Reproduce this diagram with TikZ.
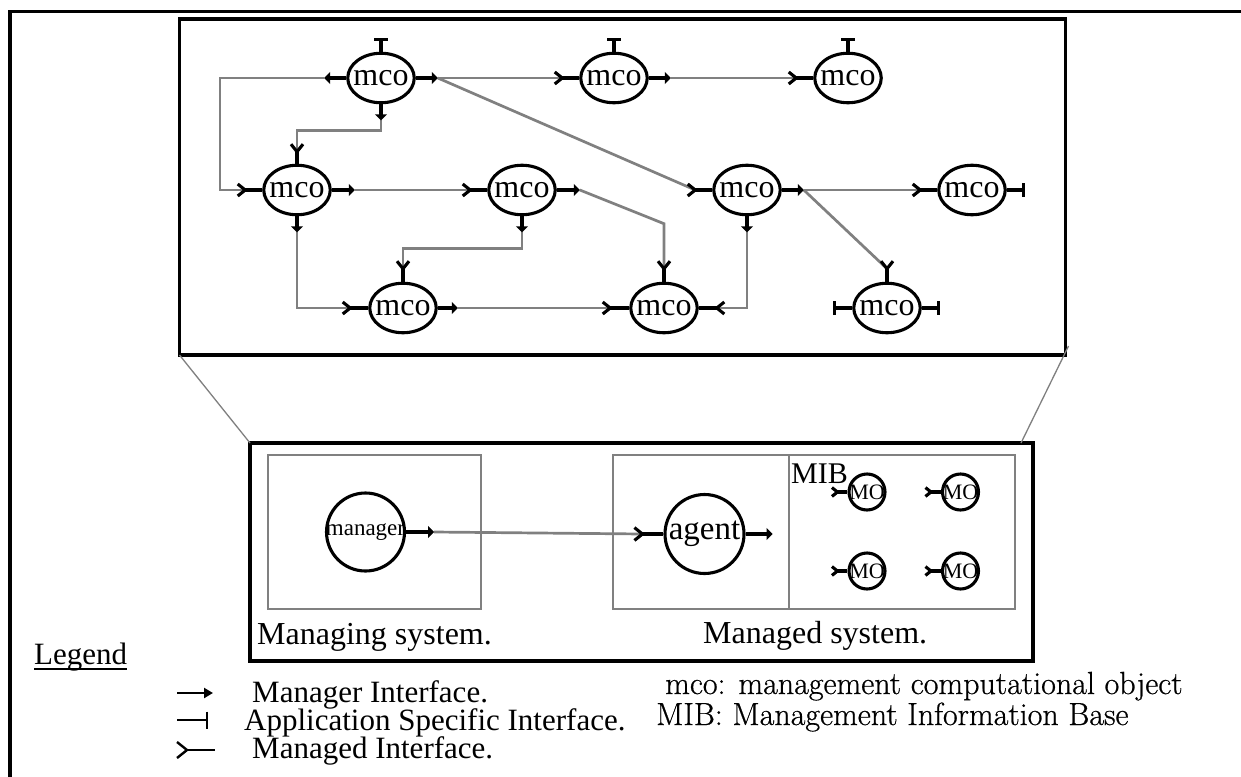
\documentclass[tikz,border=0pt]{standalone}
\usepackage{fontspec}
\setmainfont{Liberation Serif}
\newfontfamily\bookfont[FakeBold=0.6]{Latin Modern Roman}
\usetikzlibrary{shapes.geometric,arrows.meta,calc,backgrounds}

\tikzset{
  ink/.style={draw=black, line width=3.1pt},
  wire/.style={draw=black!50, line width=2.7pt},
  sysbox/.style={draw=black!50, line width=2.7pt, rectangle, inner sep=0pt, outer sep=0pt, anchor=north west},
  frame/.style={draw=black, line width=3.5pt, rectangle, inner sep=0pt, outer sep=0pt, anchor=north west},
  link/.style={draw=black!50, line width=1.3pt},
  mco/.style={ellipse, ink, minimum width=66.5pt, minimum height=49.5pt,
    inner xsep=-6pt, inner ysep=0pt, font=\fontsize{32}{32}\selectfont},
  unit/.style={circle, ink, inner sep=-5pt},
  mgr/.style={ink, -{Triangle[length=6pt,width=12pt]}},
  asi/.style={ink, -{Bar[width=14pt]}},
  lbl/.style={inner sep=0pt, anchor=base west, font=\fontsize{32}{32}\selectfont},
  keytext/.style={inner sep=0pt, anchor=base west, font=\fontsize{31}{31}\selectfont},
  deftext/.style={inner sep=0pt, anchor=base west, font=\bookfont\fontsize{32}{32}\selectfont},
  % managed-interface fork, its point towards the object
  pics/mgdW/.style={code={\draw[ink] (-#1,-0.8*#1) -- (0,0) -- (-#1,0.8*#1);}},
  pics/mgdE/.style={code={\draw[ink] (#1,-0.8*#1) -- (0,0) -- (#1,0.8*#1);}},
  pics/mgdN/.style={code={\draw[ink] (-0.8*#1,-#1) -- (0,0) -- (0.8*#1,-#1);}},
  pics/mgdW/.default=7.5,
  pics/mgdE/.default=7.5,
  pics/mgdN/.default=7.5,
}

\begin{document}
\begin{tikzpicture}[x=1pt,y=-1pt]
\useasboundingbox (0,0) rectangle (1241,776);
\begin{scope}[on background layer]
\fill[white] (0,0) rectangle (1241,776);
\end{scope}

% outer frame
\draw[line width=3.4pt] (10,790) -- (10,11.5) -- (1260,11.5);

% frames of the two views
\node[frame, minimum width=886pt, minimum height=336pt] (top) at (179.5,19) {};
\node[frame, minimum width=783pt, minimum height=218pt] (low) at (250,443) {};
\draw[link] (top.south west) -- (low.north west);
\draw[link] ([shift={(3,-9)}]top.south east) -- ([shift={(-12,0)}]low.north east);

% ---------- computational objects ----------
\node[mco] (c1) at (381,78) {mco};
\node[mco] (c2) at (614,78) {mco};
\node[mco] (c3) at (848,78) {mco};
\node[mco] (c4) at (297,190) {mco};
\node[mco] (c5) at (522,190) {mco};
\node[mco] (c6) at (747,190) {mco};
\node[mco] (c7) at (972,190) {mco};
\node[mco] (c8) at (403,308) {mco};
\node[mco] (c9) at (664,308) {mco};
\node[mco] (c10) at (887,308) {mco};

% interfaces
\draw[asi] (c1.north) -- ++(0,-14);
\draw[mgr] (c1.west) -- ++(-22,0) coordinate (c1w);
\draw[mgr] (c1.east) -- ++(22,0) coordinate (c1e);
\draw[mgr] (c1.south) -- ++(0,16) coordinate (c1s);

\draw[asi] (c2.north) -- ++(0,-14);
\draw[ink] (c2.west) -- ++(-17,0) coordinate (c2w); \pic at (c2w) {mgdW};
\draw[mgr] (c2.east) -- ++(22,0) coordinate (c2e);

\draw[asi] (c3.north) -- ++(0,-14);
\draw[ink] (c3.west) -- ++(-17,0) coordinate (c3w); \pic at (c3w) {mgdW};

\draw[ink] (c4.north) -- ++(0,-12) coordinate (c4n); \pic at (c4n) {mgdN};
\draw[ink] (c4.west) -- ++(-17,0) coordinate (c4w); \pic at (c4w) {mgdW};
\draw[mgr] (c4.east) -- ++(23,0) coordinate (c4e);
\draw[mgr] (c4.south) -- ++(0,16) coordinate (c4s);

\draw[ink] (c5.west) -- ++(-17,0) coordinate (c5w); \pic at (c5w) {mgdW};
\draw[mgr] (c5.east) -- ++(23,0) coordinate (c5e);
\draw[mgr] (c5.south) -- ++(0,16) coordinate (c5s);

\draw[ink] (c6.west) -- ++(-17,0) coordinate (c6w); \pic at (c6w) {mgdW};
\draw[mgr] (c6.east) -- ++(22,0) coordinate (c6e);
\draw[mgr] (c6.south) -- ++(0,16) coordinate (c6s);

\draw[ink] (c7.west) -- ++(-17,0) coordinate (c7w); \pic at (c7w) {mgdW};
\draw[asi] (c7.east) -- ++(18,0);

\draw[ink] (c8.north) -- ++(0,-13) coordinate (c8n); \pic at (c8n) {mgdN};
\draw[ink] (c8.west) -- ++(-18,0) coordinate (c8w); \pic at (c8w) {mgdW};
\draw[mgr] (c8.east) -- ++(20,0) coordinate (c8e);

\draw[ink] (c9.north) -- ++(0,-13) coordinate (c9n); \pic at (c9n) {mgdN};
\draw[ink] (c9.west) -- ++(-19,0) coordinate (c9w); \pic at (c9w) {mgdW};
\draw[ink] (c9.east) -- ++(18,0) coordinate (c9e); \pic at (c9e) {mgdE};

\draw[ink] (c10.north) -- ++(0,-13) coordinate (c10n); \pic at (c10n) {mgdN};
\draw[asi] (c10.west) -- ++(-19,0);
\draw[asi] (c10.east) -- ++(18,0);

% bindings between interfaces
\begin{scope}[on background layer]
\draw[wire] (c1w) -- (220,78) |- (c4w);
\draw[wire] (c1s) -- ++(0,10) -| (c4n);
\draw[wire] (c1e) -- (c2w);
\draw[wire] (c1e) -- (c6w);
\draw[wire] (c2e) -- (c3w);
\draw[wire] (c4e) -- (c5w);
\draw[wire] (c4s) |- (c8w);
\draw[wire] (c5e) -- ($(c9n)+(0,-45)$) -- (c9n);
\draw[wire] (c5s) -- ++(0,16) -| (c8n);
\draw[wire] (c6e) -- (c7w);
\draw[wire] (c6e) -- (c10n);
\draw[wire] (c6s) |- (c9e);
\draw[wire] (c8e) -- (c9w);
\end{scope}

% ---------- managing and managed systems ----------
\node[sysbox, minimum width=213pt, minimum height=154pt] (mgsys) at (268,455) {};
\node[sysbox, minimum width=176pt, minimum height=154pt] (agsys) at (613,455) {};
\node[sysbox, minimum width=226pt, minimum height=154pt] (mib) at (789,455) {};

\node[unit, minimum size=78pt, font=\fontsize{23}{23}\selectfont] (mgr) at (365.5,532) {manager};
\node[unit, minimum size=79pt, font=\fontsize{33}{33}\selectfont] (agt) at (704.5,534) {agent};
\draw[mgr] (mgr.east) -- ++(28,0) coordinate (mgre);
\draw[ink] (agt.west) -- ++(-21,0) coordinate (agtw); \pic at (agtw) {mgdW=8};
\draw[mgr] (agt.east) -- ++(27,0);
\begin{scope}[on background layer]
\draw[wire] (mgre) -- (agtw);
\end{scope}

\node[inner sep=0pt, anchor=base west, font=\fontsize{30}{30}\selectfont] (mibl) at (791,483) {MIB};

\foreach \n/\x/\y in {mo1/867/492, mo2/960.5/492, mo3/867/571, mo4/960.5/571}{
  \node[unit, minimum size=36pt, font=\fontsize{22}{22}\selectfont] (\n) at (\x,\y) {MO};
  \draw[ink] (\n.west) -- ++(-10,0) coordinate (\n w);
  \pic at (\n w) {mgdW=5.5};
}

\node[lbl] (mgl) at (257,644) {Managing system.};
\node[lbl] (agl) at (703,643) {Managed system.};

% ---------- legend ----------
\node[keytext] (leg) at (34,664) {Legend};
\draw[line width=1.8pt] ([yshift=-5pt]leg.base west) -- ([yshift=-5pt]leg.base east);

\coordinate (k1a) at (177,693);
\coordinate (k1b) at (213,693);
\draw[ink, line width=2.4pt, -{Triangle[length=9pt,width=10pt]}] (k1a) -- (k1b);
\node[keytext] (k1t) at (252,702) {Manager Interface.};

\coordinate (k2a) at (177,720);
\coordinate (k2b) at (208,720);
\draw[ink, line width=2.4pt, -{Bar[width=17pt]}] (k2a) -- (k2b);
\node[keytext] (k2t) at (244,730) {Application Specific Interface.};

\coordinate (k3a) at (187,750);
\coordinate (k3b) at (215,750);
\draw[ink, line width=2.4pt] (k3a) -- (k3b);
\draw[ink, line width=2.4pt] ([shift={(-10,-8)}]k3a) -- (k3a) -- ([shift={(-10,8)}]k3a);
\node[keytext] (k3t) at (252,758) {Managed Interface.};

\node[deftext] (d1) at (665,694) {mco: management computational object};
\node[deftext] (d2) at (656,725) {MIB: Management Information Base};
\end{tikzpicture}
\end{document}
